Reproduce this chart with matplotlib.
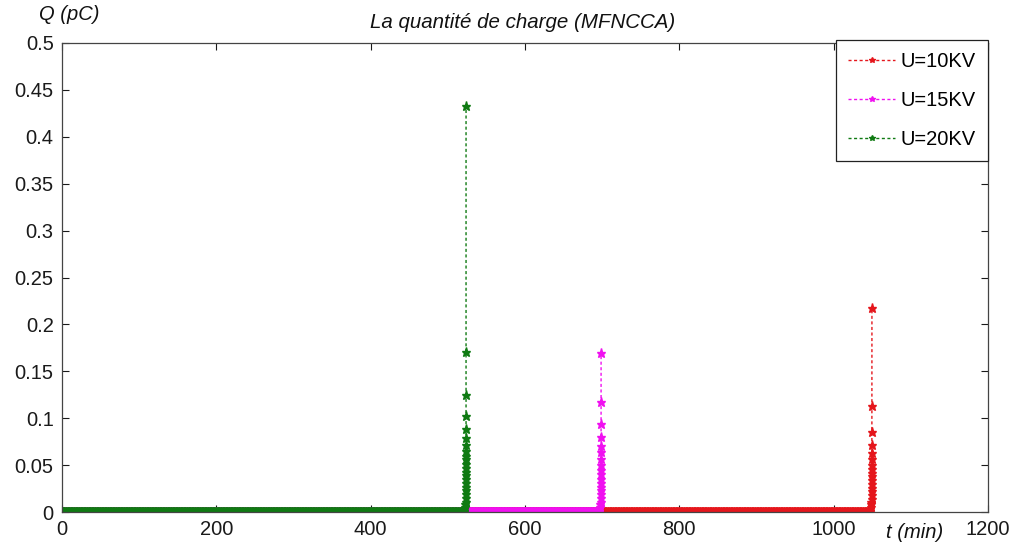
import numpy as np
import matplotlib
matplotlib.use("Agg")
import matplotlib.pyplot as plt

plt.rcParams['font.family'] = ['Liberation Sans', 'DejaVu Sans']

# ---- data -------------------------------------------------------------
series_labels = ["U=10KV", "U=15KV", "U=20KV"]
series_colors = ["#e5161c", "#f010f0", "#0f7a12"]

# quiet phase: charge stays at ~0 until just before breakdown
t_quiet_end = [1044.0, 693.0, 518.0]   # end of the flat part (min)
t_step = 0.8                            # sampling step of the flat part (min)

# growth phase just before breakdown (time in min, charge in pC)
t_tail_10 = [1045.0, 1046.5, 1047.5, 1048.2, 1048.7, 1049.0, 1049.2, 1049.3,
             1049.4, 1049.5, 1049.5, 1049.5, 1049.6, 1049.6, 1049.6, 1049.6,
             1049.6, 1049.6, 1049.6, 1049.6, 1049.6, 1049.6]
q_tail_10 = [0.0005, 0.0015, 0.003, 0.005, 0.008, 0.011, 0.014, 0.018,
             0.022, 0.026, 0.030, 0.034, 0.038, 0.042, 0.046, 0.050,
             0.0565, 0.063, 0.0714, 0.085, 0.113, 0.2175]

t_tail_15 = [694.0, 695.5, 696.5, 697.2, 697.7, 698.0, 698.2, 698.3,
             698.4, 698.5, 698.5, 698.6, 698.6, 698.6, 698.6, 698.6,
             698.6, 698.6, 698.6, 698.6, 698.6, 698.6]
q_tail_15 = [0.0005, 0.0015, 0.003, 0.005, 0.008, 0.011, 0.015, 0.019,
             0.023, 0.027, 0.031, 0.035, 0.040, 0.045, 0.050, 0.057,
             0.064, 0.0704, 0.080, 0.094, 0.117, 0.1695]

t_tail_20 = [519.0, 520.5, 521.5, 522.3, 522.8, 523.1, 523.3, 523.4,
             523.5, 523.5, 523.6, 523.6, 523.6, 523.6, 523.6, 523.6,
             523.6, 523.6, 523.6, 523.6, 523.6, 523.6, 523.6, 523.6, 523.6,
             523.6]
q_tail_20 = [0.0005, 0.0015, 0.003, 0.005, 0.008, 0.011, 0.015, 0.019,
             0.023, 0.027, 0.031, 0.035, 0.039, 0.043, 0.047, 0.051,
             0.056, 0.060, 0.065, 0.071, 0.079, 0.0885, 0.102, 0.125, 0.171,
             0.433]

x_ticks = [0, 200, 400, 600, 800, 1000, 1200]
x_ticklabels = ["0", "200", "400", "600", "800", "1000", "1200"]
y_ticks = [0, 0.05, 0.1, 0.15, 0.2, 0.25, 0.3, 0.35, 0.4, 0.45, 0.5]
y_ticklabels = ["0", "0.05", "0.1", "0.15", "0.2", "0.25", "0.3", "0.35",
                "0.4", "0.45", "0.5"]

# ---- assemble full series ---------------------------------------------
def build(t_end, t_tail, q_tail):
    t_flat = np.arange(0.0, t_end, t_step)
    q_flat = np.zeros_like(t_flat)
    return (np.concatenate([t_flat, np.asarray(t_tail)]),
            np.concatenate([q_flat, np.asarray(q_tail)]))

series = [build(t_quiet_end[0], t_tail_10, q_tail_10),
          build(t_quiet_end[1], t_tail_15, q_tail_15),
          build(t_quiet_end[2], t_tail_20, q_tail_20)]

# ---- figure -----------------------------------------------------------
fig = plt.figure(figsize=(10.17, 5.44), dpi=100)
ax = fig.add_axes([62 / 1017, 1 - 512 / 544, (988 - 62) / 1017, (512 - 43) / 544])

for (t, q), lab, col in zip(series, series_labels, series_colors):
    ax.plot(t, q, linestyle=(0, (2.2, 1.8)), linewidth=1.0, color=col,
            marker='*', markersize=6.5, markeredgewidth=1.0, label=lab)

ax.set_xlim(0, 1200)
ax.set_ylim(0, 0.5)
ax.set_xticks(x_ticks)
ax.set_xticklabels(x_ticklabels)
ax.set_yticks(y_ticks)
ax.set_yticklabels(y_ticklabels)
ax.tick_params(direction='in', length=5, width=0.8, top=True, right=True,
               labelsize=14.5, colors='#1a1a1a', pad=6)
for sp in ax.spines.values():
    sp.set_color('#444444')
    sp.set_linewidth(0.9)

fig.text(523 / 1017, 1 - 23 / 544, "La quantité de charge (MFNCCA)",
         ha='center', va='center', style='italic', fontsize=14.8, color='#111111')
fig.text(69 / 1017, 1 - 15 / 544, "Q (pC)", ha='center', va='center',
         style='italic', fontsize=14.5, color='#111111')
fig.text(915 / 1017, 1 - 533 / 544, "t (min)", ha='center', va='center',
         style='italic', fontsize=14.5, color='#111111')

leg = ax.legend(loc='upper right', bbox_to_anchor=(988 / 1017, 1 - 40 / 544),
                bbox_transform=fig.transFigure, fancybox=False, framealpha=1,
                edgecolor='#222222', fontsize=14.5, handlelength=2.3,
                borderpad=0.6, labelspacing=1.0, handletextpad=0.3,
                borderaxespad=0)
leg.get_frame().set_linewidth(0.9)
for h in leg.get_lines():
    h.set_markersize(4)

fig.savefig("out.png", dpi=100, facecolor='white')
